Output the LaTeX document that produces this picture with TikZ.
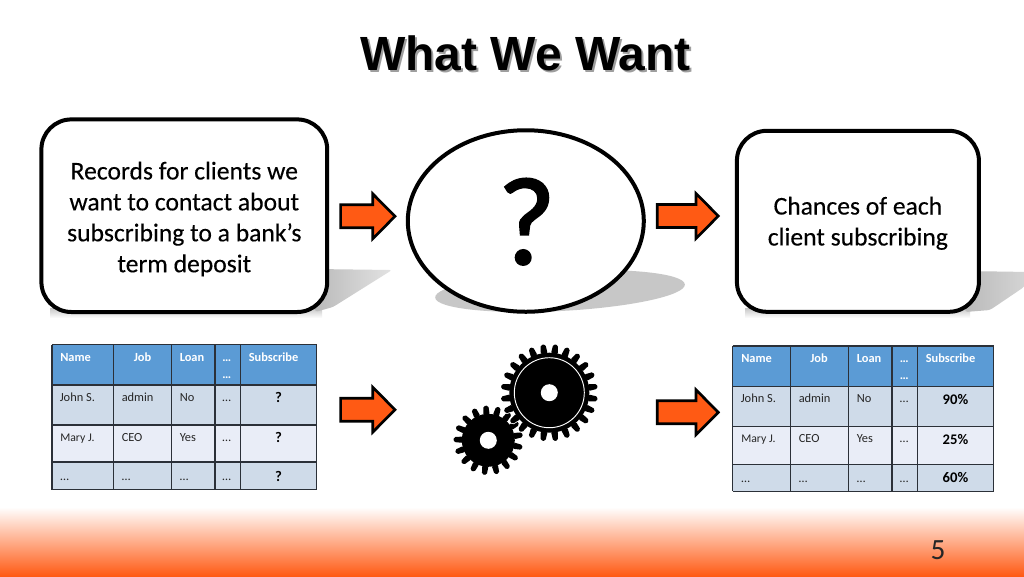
\documentclass[tikz,border=0pt]{standalone}
\usepackage{fontspec}
\setmainfont{Carlito}
\newfontfamily\titlefont{Liberation Sans}
\newfontfamily\boxfont[FakeBold=0.25]{Carlito}
\newfontfamily\qfont[FakeBold=1.6]{Carlito}
\usetikzlibrary{shapes.geometric,calc}
\definecolor{hdrblue}{HTML}{5B9BD5}
\definecolor{rowdark}{HTML}{CFDBE9}
\definecolor{rowlight}{HTML}{E9EDF7}
\definecolor{arrowor}{HTML}{FF5A14}
\definecolor{gridc}{HTML}{2B3038}
\tikzset{
  mainbox/.style={draw=black,line width=3pt,fill=white,rounded corners=22.5pt,inner sep=0pt},
  boxtext/.style={align=center,font=\boxfont\fontsize{19.2}{23.2}\selectfont,inner sep=0pt},
  bigarrow/.style={draw=black,line width=2pt,fill=arrowor,miter limit=10},
  cellh/.style={font=\fontsize{9.3}{10}\selectfont\bfseries,text=white,inner sep=0pt,anchor=base west},
  cellt/.style={font=\fontsize{9.3}{10}\selectfont,text=black!85,inner sep=0pt,anchor=base west},
  cellm/.style={font=\fontsize{8.8}{10}\selectfont,text=black!85,inner sep=0pt,anchor=base west},
  cellb/.style={font=\fontsize{11}{12}\selectfont\bfseries,text=black,inner sep=0pt,anchor=base},
  tabline/.style={draw=gridc,line width=0.9pt},
  shadowpoly/.style={left color=black!27,right color=black!11,draw=none,rounded corners=2pt},
  titletext/.style={font=\titlefont\fontsize{36}{40}\selectfont\bfseries,inner sep=0pt,anchor=base},
  gearpaint/.style={fill=black},
}
\newcommand{\bigarrowat}[6]{% name, left x, center y, base x, tip x, head half height
  \draw[bigarrow] (#2,#3-11.5) -- (#4,#3-11.5) -- (#4,#3-#6) -- (#5,#3) -- (#4,#3+#6) -- (#4,#3+11.5) -- (#2,#3+11.5) -- cycle;
  \coordinate (#1) at (#2,#3);
}
\newcommand{\gearat}[6]{% cx cy rootR outerR teeth phase
  \path[gearpaint] (#1,#2) circle[radius=#3];
  \foreach \k in {1,...,#5}{
    \pgfmathsetmacro{\ang}{#6+\k*360/#5}
    \pgfmathsetmacro{\w}{0.34*360/#5}
    \pgfmathsetmacro{\v}{0.19*360/#5}
    \path[gearpaint,rounded corners=1.2pt] ($(#1,#2)+(\ang-\w:#3-1)$) -- ($(#1,#2)+(\ang-\v:#4)$) -- ($(#1,#2)+(\ang+\v:#4)$) -- ($(#1,#2)+(\ang+\w:#3-1)$) -- cycle;
  }
}
\begin{document}
\begin{tikzpicture}[x=0.75pt,y=-0.75pt]
\useasboundingbox (0,0) rectangle (1024,576);
\fill[white] (0,0) rectangle (1024,576);
% footer band
\shade[top color=white,bottom color=arrowor] (0,507) rectangle (1024,576);
\node[font=\fontsize{22}{24}\selectfont,text=black!85,inner sep=0pt] (pagenum) at (938,550) {5};
% title
\node[titletext,text=black!38] (titleshadow) at (527.5,72.5) {What We Want};
\node[titletext,text=black] (title) at (525.5,70.5) {What We Want};
% soft shadows under the shapes
\shade[top color=black!22,bottom color=white,draw=none] (50,308) rectangle (322,318);
\shade[top color=black!22,bottom color=white,draw=none] (745,308) rectangle (970,318);
\shade[shadowpoly] (315,269) -- (392,270) -- (333,307) -- (315,312) -- cycle;
\fill[black!22,rotate around={3:(560,291)}] (560,291) ellipse[x radius=125,y radius=20];
\shade[shadowpoly,left color=black!27,right color=black!16] (965,271) -- (1030,272) -- (1024,287) -- (990,310) -- (965,312) -- cycle;
% boxes
\node[mainbox,minimum width=285.8*0.75pt,minimum height=192.6*0.75pt] (records) at (184.3,215.7) {};
\node[boxtext] (recordstext) at (184.3,219) {Records for clients we\\want to contact about\\subscribing to a bank’s\\term deposit};
\node[draw=black,line width=3pt,fill=white,ellipse,minimum width=236*0.75pt,minimum height=181.5*0.75pt,inner sep=0pt] (question) at (525.8,221) {};
\node[font=\qfont\fontsize{94}{94}\selectfont,inner sep=0pt] (qmark) at (526.7,221.7) {?};
\node[mainbox,minimum width=242*0.75pt,minimum height=181*0.75pt] (chances) at (857.9,221.3) {};
\node[boxtext] (chancestext) at (857.9,223.3) {Chances of each\\client subscribing};
% arrows
\bigarrowat{a1}{340.6}{216.3}{372.7}{395}{22.5}
\bigarrowat{a2}{657.3}{216}{696}{718.3}{22.5}
\bigarrowat{a3}{340.6}{409.7}{372.7}{395}{22.5}
\bigarrowat{a4}{657.3}{412.3}{696}{718.3}{22.5}
% gears
\gearat{488.3}{440.3}{26.5}{34.7}{17}{266}
\fill[white] (488.3,440.3) circle[radius=8.5];
\begin{scope}[gearpaint/.style={fill=white,draw=white,line width=1.2pt}]
\gearat{549.3}{392.7}{40}{48.5}{24}{7.5}
\end{scope}
\gearat{549.3}{392.7}{40}{48.5}{24}{7.5}
\fill[white] (549.3,392.7) circle[radius=8.5];
\draw[white,line width=0.7pt] (549.3,392.7) circle[radius=35];
% LEFT TABLE
\fill[hdrblue] (52,344.5) rectangle (316.7,385);
\fill[rowdark] (52,385) rectangle (316.7,425);
\fill[rowlight] (52,425) rectangle (316.7,462);
\fill[rowdark] (52,462) rectangle (316.7,489.5);
\foreach \x in {52,113.5,171.7,215,240.7,316.7} \draw[tabline] (\x,344.5) -- (\x,489.5);
\foreach \y in {344.5,385,425,462,489.5} \draw[tabline] (52,\y) -- (316.7,\y);
\node[cellh] (lh1) at (60,361) {Name};
\node[cellh] (lh2) at (133.5,361) {Job};
\node[cellh] (lh3) at (179.5,361) {Loan};
\node[cellh] (lh4) at (222,361) {…};
\node[cellh] (lh4b) at (222,378) {…};
\node[cellh] (lh5) at (248.5,361) {Subscribe};
\node[cellt] (l11) at (59.5,401) {John S.};
\node[cellt] (l12) at (121.5,401) {admin};
\node[cellt] (l13) at (179.5,401) {No};
\node[cellt] (l14) at (222,401) {…};
\node[cellb] (l15) at (278.5,402) {?};
\node[cellm] (l21) at (60,441) {Mary J.};
\node[cellt] (l22) at (121.5,441) {CEO};
\node[cellt] (l23) at (179.5,441) {Yes};
\node[cellt] (l24) at (222,441) {…};
\node[cellb] (l25) at (278.5,442) {?};
\node[cellt] (l31) at (60,480) {…};
\node[cellt] (l32) at (121.5,480) {…};
\node[cellt] (l33) at (179.5,480) {…};
\node[cellt] (l34) at (222,480) {…};
\node[cellb] (l35) at (278.5,481) {?};
% RIGHT TABLE
\fill[hdrblue] (732.7,346) rectangle (993.7,386.7);
\fill[rowdark] (732.7,386.7) rectangle (993.7,426.7);
\fill[rowlight] (732.7,426.7) rectangle (993.7,464.3);
\fill[rowdark] (732.7,464.3) rectangle (993.7,491.3);
\foreach \x in {732.7,790.3,848.7,892,917.3,993.7} \draw[tabline] (\x,346) -- (\x,491.3);
\foreach \y in {346,386.7,426.7,464.3,491.3} \draw[tabline] (732.7,\y) -- (993.7,\y);
\node[cellh] (rh1) at (741,362.5) {Name};
\node[cellh] (rh2) at (810,362.5) {Job};
\node[cellh] (rh3) at (856.5,362.5) {Loan};
\node[cellh] (rh4) at (899.5,362.5) {…};
\node[cellh] (rh4b) at (899.5,379.5) {…};
\node[cellh] (rh5) at (925.5,362.5) {Subscribe};
\node[cellt] (r11) at (740.5,402.5) {John S.};
\node[cellt] (r12) at (798.5,402.5) {admin};
\node[cellt] (r13) at (856.5,402.5) {No};
\node[cellt] (r14) at (899.5,402.5) {…};
\node[cellb] (r15) at (955.5,404) {90\%};
\node[cellm] (r21) at (741,442.5) {Mary J.};
\node[cellt] (r22) at (798.5,442.5) {CEO};
\node[cellt] (r23) at (856.5,442.5) {Yes};
\node[cellt] (r24) at (899.5,442.5) {…};
\node[cellb] (r25) at (955.5,444) {25\%};
\node[cellt] (r31) at (741,482) {…};
\node[cellt] (r32) at (798.5,482) {…};
\node[cellt] (r33) at (856.5,482) {…};
\node[cellt] (r34) at (899.5,482) {…};
\node[cellb] (r35) at (955.5,482.5) {60\%};
\end{tikzpicture}
\end{document}
